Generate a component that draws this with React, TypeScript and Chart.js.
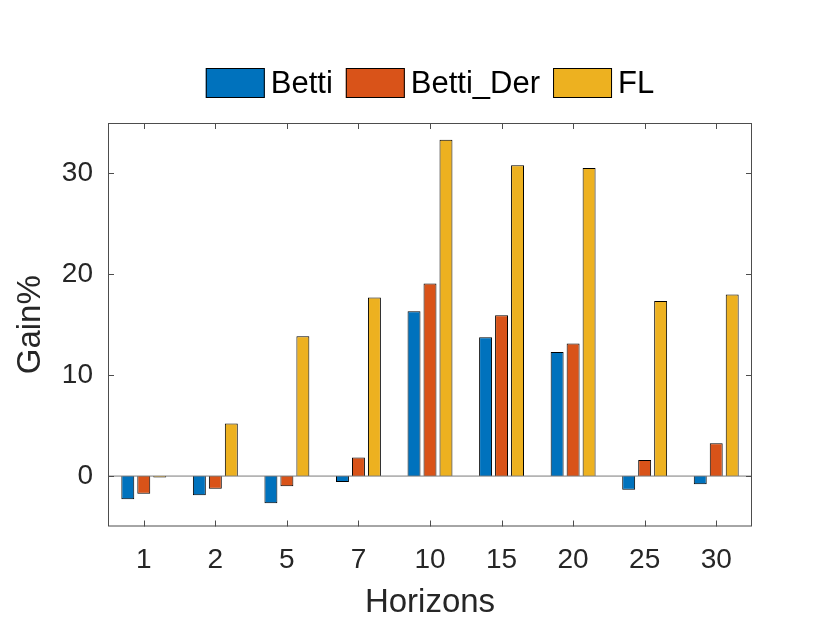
import { useEffect, useRef } from "react";
import { Chart, registerables } from "chart.js";

Chart.register(...registerables);

// values
const horizons = ["1", "2", "5", "7", "10", "15", "20", "25", "30"];
const betti = [-2.3, -1.9, -2.7, -0.6, 16.35, 13.75, 12.3, -1.35, -0.8];
const bettiDer = [-1.75, -1.25, -1.0, 1.85, 19.1, 15.95, 13.15, 1.6, 3.25];
const fl = [-0.15, 5.2, 13.85, 17.7, 33.35, 30.8, 30.55, 17.35, 18.0];
const yTicks = [0, 10, 20, 30];
const seriesNames = ["Betti", "Betti_Der", "FL"];
const seriesColors = ["#0072BD", "#D95319", "#EDB120"];

const FONT = "'Liberation Sans', Arial, sans-serif";
const TEXT = "#262626";
const AXIS = "#4d4d4d";

// box round the axes, inward ticks on all four sides, bar baseline at 0
const boxPlugin = {
  id: "matlabBox",
  afterDatasetsDraw(chart: any) {
    const { ctx, chartArea: a, scales } = chart;
    const x = scales.x;
    const y = scales.y;
    const tl = 6;
    ctx.save();
    // baseline
    const y0 = y.getPixelForValue(0);
    ctx.strokeStyle = "#7a7a7a";
    ctx.lineWidth = 1;
    ctx.beginPath();
    ctx.moveTo(a.left, y0);
    ctx.lineTo(a.right, y0);
    ctx.stroke();

    ctx.strokeStyle = AXIS;
    ctx.lineWidth = 1;
    ctx.strokeRect(a.left + 0.5, a.top + 0.5, a.right - a.left - 1, a.bottom - a.top - 1);
    ctx.beginPath();
    horizons.forEach((_, i) => {
      const px = Math.round(x.getPixelForValue(i)) + 0.5;
      ctx.moveTo(px, a.bottom);
      ctx.lineTo(px, a.bottom - tl);
      ctx.moveTo(px, a.top);
      ctx.lineTo(px, a.top + tl);
    });
    yTicks.forEach((v) => {
      const py = Math.round(y.getPixelForValue(v)) + 0.5;
      ctx.moveTo(a.left, py);
      ctx.lineTo(a.left + tl, py);
      ctx.moveTo(a.right, py);
      ctx.lineTo(a.right - tl, py);
    });
    ctx.stroke();
    ctx.restore();
  },
  afterDraw(chart: any) {
    // legend above the axes, centred on the plot
    const { ctx, chartArea: a } = chart;
    ctx.save();
    ctx.font = `31px ${FONT}`;
    ctx.textBaseline = "middle";
    const boxW = 59;
    const boxH = 30;
    const gapText = 6;
    const gapItem = 13;
    const widths = seriesNames.map((s) => ctx.measureText(s).width);
    const total =
      widths.reduce((s, w) => s + boxW + gapText + w, 0) + gapItem * (seriesNames.length - 1);
    let cx = (a.left + a.right) / 2 - total / 2;
    const top = 68;
    seriesNames.forEach((name, i) => {
      ctx.fillStyle = seriesColors[i];
      ctx.fillRect(cx, top, boxW, boxH);
      ctx.strokeStyle = "#000";
      ctx.lineWidth = 1;
      ctx.strokeRect(cx + 0.5, top + 0.5, boxW - 1, boxH - 1);
      ctx.fillStyle = "#000";
      ctx.fillText(name, cx + boxW + gapText, top + boxH / 2 + 1);
      cx += boxW + gapText + widths[i] + gapItem;
    });
    ctx.restore();
  },
};

const App = () => {
  const canvasRef = useRef<HTMLCanvasElement>(null);

  useEffect(() => {
    const ctx = canvasRef.current?.getContext("2d");
    if (!ctx) return;

    const data = [betti, bettiDer, fl];
    const chart = new Chart(ctx, {
      type: "bar",
      data: {
        labels: horizons,
        datasets: data.map((d, i) => ({
          label: seriesNames[i],
          data: d,
          backgroundColor: seriesColors[i],
          borderColor: "#000",
          borderWidth: 1,
          categoryPercentage: 0.67,
          barPercentage: 0.81,
        })),
      },
      options: {
        animation: false,
        responsive: false,
        devicePixelRatio: 1,
        layout: { padding: { left: 0, right: 78, top: 123, bottom: 0 } },
        plugins: {
          legend: { display: false },
          tooltip: { enabled: false },
        },
        scales: {
          x: {
            grid: { display: false, drawTicks: false },
            border: { display: false },
            ticks: {
              color: TEXT,
              font: { family: FONT, size: 28 },
              padding: 17,
              maxRotation: 0,
            },
            title: {
              display: true,
              text: "Horizons",
              color: TEXT,
              font: { family: FONT, size: 33 },
              padding: { top: 0, bottom: 0 },
            },
            afterFit: (scale: any) => {
              scale.height = 96.5;
            },
          },
          y: {
            min: -5,
            max: 35,
            grid: { display: false, drawTicks: false },
            border: { display: false },
            afterBuildTicks: (scale: any) => {
              scale.ticks = yTicks.map((v) => ({ value: v }));
            },
            ticks: {
              color: TEXT,
              font: { family: FONT, size: 28 },
              padding: 15,
            },
            title: {
              display: true,
              text: "Gain%",
              color: TEXT,
              font: { family: FONT, size: 33 },
              padding: { top: 11, bottom: 0 },
            },
            afterFit: (scale: any) => {
              scale.width = 108;
            },
          },
        },
      },
      plugins: [boxPlugin],
    });

    return () => {
      chart.destroy();
    };
  }, []);

  return (
    <div style={{ position: "fixed", left: 0, top: 0, width: 830, height: 623, background: "#fff" }}>
      <canvas ref={canvasRef} width={830} height={623}></canvas>
    </div>
  );
};

export default App;
